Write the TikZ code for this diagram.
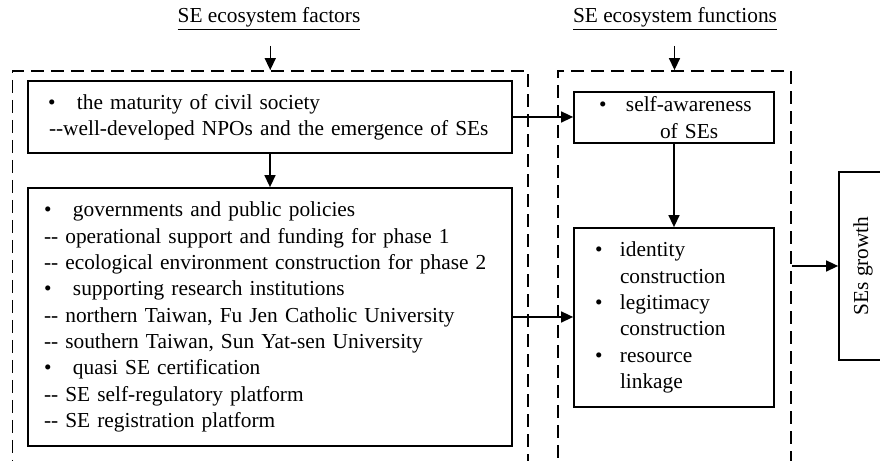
\documentclass[tikz,border=0pt]{standalone}
\usepackage{fontspec}
\setmainfont{Liberation Serif}
\usetikzlibrary{calc}
\usetikzlibrary{arrows.meta}
\newcommand{\dd}{\mbox{-}\mbox{-}}
\newcommand{\bul}[1]{\makebox[#1][l]{\textbullet}}
\tikzset{
  txt/.style={font=\fontsize{12.15}{15}\selectfont},
  box/.style={txt,draw,line width=.35mm,align=left,inner xsep=.32cm,inner ysep=0pt},
  dashframe/.style={draw,line width=.35mm,dash pattern=on .26cm off .14cm},
  arr/.style={-{Triangle[length=.24cm,width=.22cm]},line width=.28mm},
}
\begin{document}
\begin{tikzpicture}
\clip (0,0) rectangle (17.6,9.22);
\node[dashframe,minimum width=10.31cm,minimum height=8.8cm] (factors) at (5.405,3.4) {};
\node[dashframe,minimum width=4.66cm,minimum height=8.8cm] (functions) at (13.49,3.4) {};
\node[txt] (factorstitle) at (5.38,8.84) {\underline{SE ecosystem\ factors}};
\node[txt] (functionstitle) at (13.5,8.84) {\underline{SE ecosystem\ functions}};
\coordinate (factorsin) at (5.405,8.3);
\coordinate (functionsin) at (13.49,8.3);
\node[box,text width=9.04cm,minimum height=1.44cm] (civil) at (5.4,6.88)
  {\hspace*{.08cm}\bul{.58cm}the maturity of civil society\\
   \hspace*{.1cm}\dd well-developed NPOs and the emergence\ of SEs};
\node[box,text width=9.04cm,minimum height=5.16cm] (policy) at (5.4,2.88)
  {\bul{.58cm}governments and public policies\\
   \dd{} operational support and\ funding for phase\ 1\\
   \dd{} ecological environment\ construction for phase\ 2\\
   \bul{.58cm}supporting research\ institutions\\
   \dd{} northern Taiwan, Fu Jen Catholic University\\
   \dd{} southern Taiwan,\ Sun Yat-sen University\\
   \bul{.58cm}quasi SE certification\\
   \dd{} SE self-regulatory platform\\
   \dd{} SE registration platform};
\node[box,text width=3.36cm,minimum height=1.02cm] (aware) at (13.48,6.87)
  {\hspace*{.18cm}\bul{.54cm}self-awareness\\
   \hspace*{1.4cm}of SEs};
\node[box,text width=3.36cm,minimum height=3.58cm] (ident) at (13.48,2.87)
  {\hspace*{.1cm}\bul{.5cm}identity\\
   \hspace*{.6cm}construction\\
   \hspace*{.1cm}\bul{.5cm}legitimacy\\
   \hspace*{.6cm}construction\\
   \hspace*{.1cm}\bul{.5cm}resource\\
   \hspace*{.6cm}linkage};
\node[box,minimum width=3cm,minimum height=3.76cm] (growth) at (18.28,3.9) {};
\node[txt,rotate=90] (growthtext) at (17.26,3.9) {SEs growth};
\draw[arr] (factorsin) -- (factors.north);
\draw[arr] (functionsin) -- (functions.north);
\draw[arr] (civil.east) -- (aware.west |- civil.east);
\draw[arr] (civil.south) -- (policy.north);
\draw[arr] (aware.south) -- (ident.north);
\draw[arr] (policy.east) -- (ident.west |- policy.east);
\draw[arr] (functions.east |- growth.west) -- (growth.west);
\end{tikzpicture}
\end{document}
